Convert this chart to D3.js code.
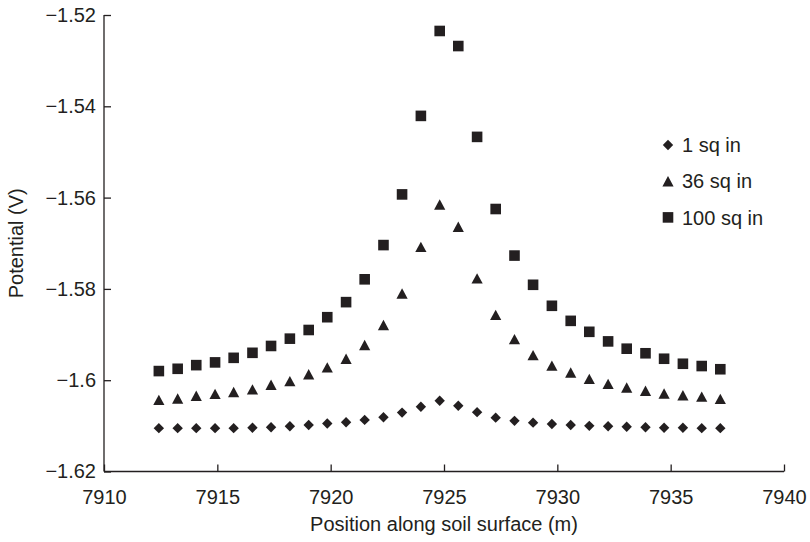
<!DOCTYPE html>
<html>
<head>
<meta charset="utf-8">
<script src="https://cdn.jsdelivr.net/npm/d3@7/dist/d3.min.js"></script>
<style>
  html, body { margin: 0; padding: 0; background: #fff; }
  svg { display: block; }
  text { font-family: "Liberation Sans", Arial, Helvetica, sans-serif; fill: #231f20; }
</style>
</head>
<body>
<svg id="chart" width="810" height="542"></svg>
<script>
// Measurement positions along the soil surface (m)
const positions = [7912.42, 7913.25, 7914.07, 7914.90, 7915.72, 7916.55, 7917.37, 7918.20,
  7919.03, 7919.85, 7920.68, 7921.50, 7922.33, 7923.15, 7923.98, 7924.81, 7925.63, 7926.46,
  7927.28, 7928.11, 7928.93, 7929.76, 7930.59, 7931.41, 7932.24, 7933.06, 7933.89, 7934.71,
  7935.54, 7936.37, 7937.19];

// Potential (V) for each holiday size
const sq1 = [-1.6105, -1.6105, -1.6105, -1.6105, -1.6105, -1.6104, -1.6103, -1.6101, -1.6098,
  -1.6095, -1.6092, -1.6087, -1.6081, -1.6071, -1.6058, -1.6045, -1.6056, -1.6070, -1.6082,
  -1.6089, -1.6093, -1.6096, -1.6098, -1.6100, -1.6101, -1.6102, -1.6103, -1.6104, -1.6104,
  -1.6105, -1.6105];
const sq36 = [-1.6043, -1.6040, -1.6034, -1.6030, -1.6026, -1.6020, -1.6010, -1.6002, -1.5987,
  -1.5972, -1.5953, -1.5923, -1.5879, -1.5810, -1.5708, -1.5615, -1.5664, -1.5777, -1.5857,
  -1.5910, -1.5945, -1.5968, -1.5983, -1.5997, -1.6008, -1.6016, -1.6023, -1.6029, -1.6033,
  -1.6036, -1.6041];
const sq100 = [-1.5980, -1.5975, -1.5967, -1.5961, -1.5951, -1.5940, -1.5925, -1.5909, -1.5890,
  -1.5862, -1.5829, -1.5779, -1.5704, -1.5593, -1.5421, -1.5235, -1.5268, -1.5467, -1.5625,
  -1.5727, -1.5791, -1.5837, -1.5870, -1.5894, -1.5915, -1.5931, -1.5941, -1.5953, -1.5964,
  -1.5969, -1.5976];

const seriesNames = ["1 sq in", "36 sq in", "100 sq in"];
const seriesShapes = ["diamond", "triangle", "square"];
const xTicks = [7910, 7915, 7920, 7925, 7930, 7935, 7940];
const yTicks = [-1.62, -1.6, -1.58, -1.56, -1.54, -1.52];
const yTickLabels = ["\u22121.62", "\u22121.6", "\u22121.58", "\u22121.56", "\u22121.54", "\u22121.52"];

const ink = "#231f20";
const svg = d3.select("#chart");
const plot = { left: 104, right: 784, top: 15, bottom: 471.5 };

const x = d3.scaleLinear().domain([7910, 7940]).range([plot.left, plot.right]);
const y = d3.scaleLinear().domain([-1.62, -1.52]).range([plot.bottom, plot.top]);

// Marker paths centred on their bounding box
function shapePath(kind) {
  if (kind === "square") { const s = 5.3; return `M${-s},${-s}H${s}V${s}H${-s}Z`; }
  if (kind === "triangle") { const w = 5.6, h = 5.2; return `M0,${-h}L${w},${h}L${-w},${h}Z`; }
  const d = 5.2; return `M0,${-d}L${d},0L0,${d}L${-d},0Z`;
}

// Axes with inward ticks
const xAxis = d3.axisBottom(x).tickValues(xTicks).tickSize(-7).tickPadding(18.5)
  .tickFormat(d3.format("d"));
const yAxis = d3.axisLeft(y).tickValues(yTicks).tickSize(-7).tickPadding(8)
  .tickFormat((d, i) => yTickLabels[i]);

const gx = svg.append("g").attr("transform", `translate(0,${plot.bottom})`).call(xAxis);
const gy = svg.append("g").attr("transform", `translate(${plot.left},0)`).call(yAxis);
[gx, gy].forEach(g => {
  g.select(".domain").attr("stroke", ink).attr("stroke-width", 1.3);
  g.selectAll(".tick line").attr("stroke", ink).attr("stroke-width", 1.3);
  g.selectAll(".tick text").attr("font-size", 20).attr("fill", ink)
    .attr("font-family", "'Liberation Sans', Arial, Helvetica, sans-serif");
});
gy.select(".domain").attr("d", `M0,${plot.bottom}V${plot.top}`);
gx.select(".domain").attr("d", `M${plot.left},0H${plot.right}`);

// Axis titles
svg.append("text")
  .attr("x", (plot.left + plot.right) / 2).attr("y", 531)
  .attr("text-anchor", "middle").attr("font-size", 20)
  .text("Position along soil surface (m)");
svg.append("text")
  .attr("transform", `translate(23,${(plot.top + plot.bottom) / 2}) rotate(-90)`)
  .attr("text-anchor", "middle").attr("font-size", 20)
  .text("Potential (V)");

// Data markers
const allSeries = [sq1, sq36, sq100];
allSeries.forEach((vals, si) => {
  svg.append("g").selectAll("path")
    .data(vals.map((v, i) => ({ x: positions[i], v })))
    .join("path")
    .attr("d", shapePath(seriesShapes[si]))
    .attr("transform", d => `translate(${x(d.x)},${y(d.v)})`)
    .attr("fill", ink);
});

// Legend
const legend = svg.append("g").attr("transform", "translate(668,145)");
seriesNames.forEach((name, i) => {
  const row = legend.append("g").attr("transform", `translate(0,${i * 36.2})`);
  row.append("path").attr("d", shapePath(seriesShapes[i])).attr("fill", ink);
  row.append("text").attr("x", 14).attr("y", 0).attr("dy", "0.36em")
    .attr("font-size", 20).text(name);
});
</script>
</body>
</html>
